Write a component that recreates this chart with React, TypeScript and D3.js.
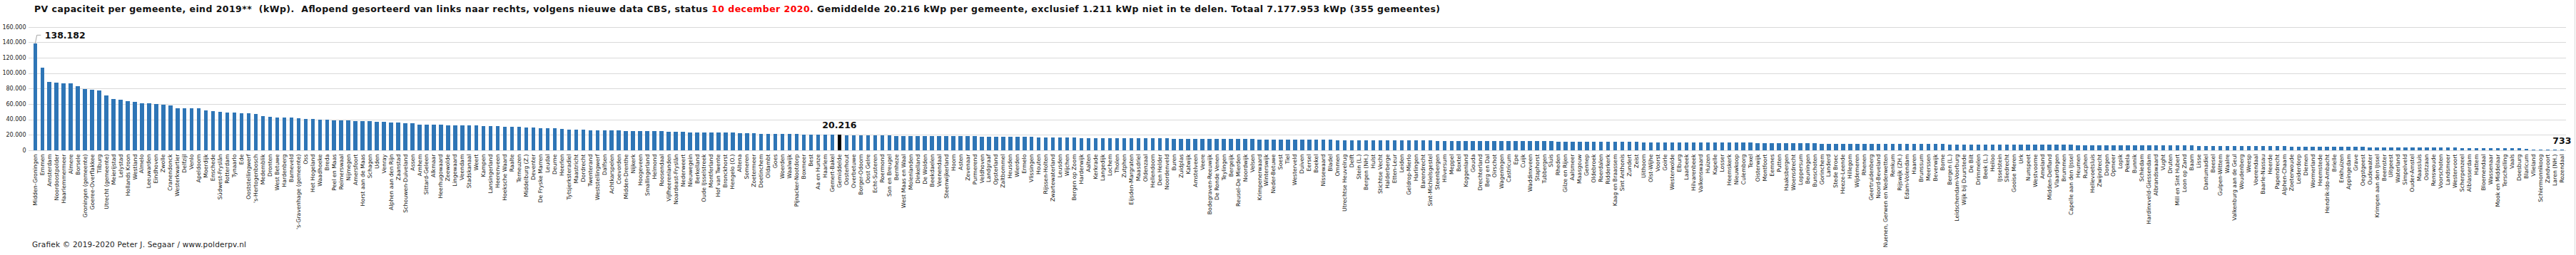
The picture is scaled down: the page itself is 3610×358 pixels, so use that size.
import React from "react";
import * as d3 from "d3";

const categories: string[] = [
  "Midden-Groningen","Emmen","Amsterdam","Noordoostpolder","Haarlemmermeer","Almere","Borsele","Groningen (gemeente)","Goeree-Overflakkee","Tilburg",
  "Utrecht (gemeente)","Meierijstad","Lelystad","Hollands Kroon","Westland","Almelo","Leeuwarden","Eindhoven","Zwolle","Cranendonck",
  "Westerkwartier","Delfzijl","Venlo","Apeldoorn","Moerdijk","Enschede","Súdwest-Fryslân","Rotterdam","Tynaarlo","Ede",
  "Ooststellingwerf","'s-Hertogenbosch","Medemblik","Dronten","West Betuwe","Hardenberg","Barneveld","'s-Gravenhage (gemeente)","Oss","Het Hogeland",
  "Waadhoeke","Breda","Peel en Maas","Reimerswaal","Nijmegen","Amersfoort","Horst aan de Maas","Schagen","Uden","Venray",
  "Alphen aan den Rijn","Zaanstad","Schouwen-Duiveland","Assen","Arnhem","Sittard-Geleen","Alkmaar","Heerhugowaard","Zeewolde","Lingewaard",
  "Veendam","Stadskanaal","Weert","Kampen","Lansingerland","Heerenveen","Hoeksche Waard","Raalte","Terneuzen","Middelburg (Z.)",
  "Deventer","De Fryske Marren","Leudal","Deurne","Heerlen","Tytsjerksteradiel","Maastricht","Dordrecht","Twenterand","Weststellingwerf",
  "Dalfsen","Achtkarspelen","Coevorden","Midden-Drenthe","Nijkerk","Hoogeveen","Smallingerland","Helmond","Roosendaal","Vijfheerenlanden",
  "Noardeast-Fryslân","Nederweert","Nieuwegein","Berkelland","Oude IJsselstreek","Montferland","Hof van Twente","Bronckhorst","Hengelo (O.)","Altena",
  "Someren","Zoetermeer","Doetinchem","Oldambt","Goes","Woerden","Waalwijk","Pijnacker-Nootdorp","Boxmeer","Best",
  "Aa en Hunze","Haarlem","Gemert-Bakel","Gemiddelde","Oosterhout","Overbetuwe","Borger-Odoorn","Oost Gelre","Echt-Susteren","Roermond",
  "Son en Breugel","Bernheze","West Maas en Waal","Molenlanden","Dinkelland","De Wolden","Beekdaelen","Veenendaal","Steenwijkerland","Hoorn",
  "Asten","Zevenaar","Purmerend","Veldhoven","Landgraaf","Opsterland","Zaltbommel","Heusden","Wierden","Ermelo",
  "Vlissingen","Houten","Rijssen-Holten","Zwartewaterland","Leusden","Wijchen","Bergen op Zoom","Harderwijk","Aalten","Kerkrade",
  "Langedijk","Lochem","Tholen","Zutphen","Eijsden-Margraten","Maasdriel","Oldenzaal","Hellendoorn","Den Helder","Noordenveld",
  "Buren","Zuidplas","Katwijk","Amstelveen","Veere","Bodegraven-Reeuwijk","De Ronde Venen","Teylingen","Bergeijk","Reusel-De Mierden",
  "Noordwijk","Velsen","Krimpenerwaard","Winterswijk","Neder-Betuwe","Soest","Tiel","Westerveld","Duiven","Eersel",
  "Boekel","Nissewaard","Bladel","Ommen","Utrechtse Heuvelrug","Delft","Stein (L.)","Bergen (NH.)","Hulst","Stichtse Vecht",
  "Halderberge","Etten-Leur","Leiden","Geldrop-Mierlo","Harlingen","Barendrecht","Sint-Michielsgestel","Steenbergen","Hilversum","Meppel",
  "Boxtel","Koggenland","Gouda","Drechterland","Berg en Dal","Oirschot","Wageningen","Castricum","Epe","Cuijk",
  "Waddinxveen","Staphorst","Tubbergen","Sluis","Rheden","Gilze en Rijen","Aalsmeer","Maasgouw","Gennep","Oldebroek",
  "Roerdalen","Ridderkerk","Kaag en Braassem","Sint Anthonis","Zundert","Zeist","Uithoorn","Olst-Wijhe","Voorst","Goirle",
  "Westerwolde","Elburg","Laarbeek","Hilvarenbeek","Valkenswaard","Huizen","Kapelle","Losser","Heemskerk","Nieuwkoop",
  "Culemborg","Texel","Oisterwijk","Montfoort","Eemnes","Putten","Haaksbergen","Woensdrecht","Loppersum","Beuningen",
  "Bunschoten","Gorinchem","Landerd","Stede Broec","Heeze-Leende","Hillegom","Wijdemeren","Rhenen","Geertruidenberg","Noord-Beveland",
  "Nuenen, Gerwen en Nederwetten","Renkum","Rijswijk (ZH.)","Edam-Volendam","Haaren","Brunssum","Meerssen","Beverwijk","Borne","Bergen (L.)",
  "Leidschendam-Voorburg","Wijk bij Duurstede","De Bilt","Drimmelen","Beek (L.)","Heiloo","IJsselstein","Sliedrecht","Gooise Meren","Urk",
  "Nunspeet","Westvoorne","Ameland","Midden-Delfland","Vlaardingen","Brummen","Capelle aan den IJssel","Heumen","Rucphen","Hellevoetsluis",
  "Zwijndrecht","Dongen","Opmeer","Lopik","Pekela","Bunnik","Schiedam","Hardinxveld-Giessendam","Albrandswaard","Vught",
  "Druten","Mill en Sint Hubert","Loon op Zand","Baarn","Lisse","Dantumadiel","Beesel","Gulpen-Wittem","Waalre","Valkenburg aan de Geul",
  "Woudenberg","Weesp","Voerendaal","Baarle-Nassau","Heerde","Papendrecht","Alphen-Chaam","Zoeterwoude","Leiderdorp","Diemen",
  "Wormerland","Heemstede","Hendrik-Ido-Ambacht","Brielle","Enkhuizen","Appingedam","Grave","Oegstgeest","Oudewater","Krimpen aan den IJssel",
  "Beemster","Uitgeest","Waterland","Simpelveld","Ouder-Amstel","Maassluis","Oostzaan","Renswoude","Voorschoten","Landsmeer",
  "Westervoort","Scherpenzeel","Alblasserdam","Hattem","Bloemendaal","Wassenaar","Mook en Middelaar","Terschelling","Vaals","Doesburg",
  "Blaricum","Vlieland","Schiermonnikoog","Zandvoort","Laren (NH.)","Rozendaal"
];

const values: number[] = [
  138182,107500,89000,88100,87200,86600,83500,79800,78900,77400,
  71500,66900,66000,64100,63200,61300,60500,60400,59500,58600,
  54900,54800,54800,54700,52100,51200,49600,49300,48500,48400,
  48300,47500,44700,43800,42900,42800,42800,41900,41000,40900,
  40100,40000,39200,39100,39100,38300,38200,38200,37300,37300,
  36400,36400,35500,35400,33600,33600,33600,33500,32700,32700,
  32600,32600,32600,31800,31700,31700,30900,30800,30800,29900,
  29900,29000,29000,28900,28100,27200,27100,27100,26300,26200,
  26200,26200,26100,25300,25300,25300,25300,25200,25200,24400,
  24400,24300,23500,23500,23400,23400,23400,23400,23300,22600,
  22500,22500,21600,21600,21600,21500,21500,21500,20700,20700,
  20700,20600,20600,20216,19800,19800,19800,19700,19700,19700,
  19700,18900,18900,18900,18900,18850,18850,18850,18800,18800,
  18800,18800,18800,17950,17950,17900,17900,17900,17900,17900,
  17850,17000,17000,17000,17000,16950,16950,16100,16100,16100,
  16100,16100,16050,16050,16050,16050,16050,16000,16000,16000,
  15200,15200,15200,15150,15150,15150,15150,15100,15100,15100,
  15100,15100,14250,14250,14250,14250,14200,14200,14200,14200,
  14200,14150,14150,13350,13350,13350,13300,13300,13300,13300,
  13300,13250,13250,13250,13250,13250,13200,12450,12450,12400,
  12400,12400,12400,12400,12400,12350,12350,12350,12350,12350,
  12300,12300,12300,12300,11500,11500,11500,11500,11450,11450,
  11450,11450,11400,11400,11400,11400,10600,10600,10600,10550,
  10550,10550,10550,10550,10500,10500,10500,10500,10500,10450,
  10450,10450,9650,9650,9650,9650,9600,9600,9600,9600,
  9550,8750,8750,8750,8750,8700,8700,8700,8700,8700,
  8700,8650,8650,8650,8650,8650,8600,8600,8600,7800,
  7800,7800,7800,7800,7750,7750,7750,7750,7750,7750,
  7700,7700,7700,7700,7700,7650,7650,6900,6900,6900,
  6900,6850,6850,6850,6850,6850,6800,6800,6800,6800,
  6800,6750,6750,6750,5950,5950,5950,5950,5900,5900,
  5900,5900,5900,5850,5850,5850,5850,5050,5050,5050,
  5000,5000,5000,5000,5000,4950,4950,4950,4100,4100,
  4100,4100,4050,4050,4050,4050,4050,4000,4000,4000,
  4000,3200,3200,3150,3150,3150,3150,3100,3100,3100,
  2200,1000,900,850,780,733
];

const yTicks: number[] = [0, 20000, 40000, 60000, 80000, 100000, 120000, 140000, 160000];
const averageLabel = "Gemiddelde";
const titleStart = "PV capaciteit per gemeente, eind 2019**  (kWp).  Aflopend gesorteerd van links naar rechts, volgens nieuwe data CBS, status ";
const titleRed = "10 december 2020";
const titleEnd = ". Gemiddelde 20.216 kWp per gemeente, exclusief 1.211 kWp niet in te delen. Totaal 7.177.953 kWp (355 gemeentes)";
const footer = "Grafiek © 2019-2020 Peter J. Segaar / www.polderpv.nl";

const BLUE = "#2E75B6";
const GRID = "#D9D9D9";
const FONT = "'DejaVu Sans', Verdana, sans-serif";

const fmt = (v: number) => d3.format(",")(v).replace(/,/g, ".");

export default function App() {
  const W = 3610, H = 358;
  const x = d3.scaleBand<string>().domain(categories).range([44.3, 3595.3]).paddingInner(0.45).paddingOuter(0.225);
  const y = d3.scaleLinear().domain([0, 160000]).range([211, 37.7]);
  const bw = x.bandwidth();

  const first = categories[0];
  const last = categories[categories.length - 1];
  const avgIdx = categories.indexOf(averageLabel);
  const cx = (c: string) => (x(c) as number) + bw / 2;

  const fx = cx(first), fy = y(values[0]);
  const ax = cx(averageLabel), ay = y(values[avgIdx]);
  const lx = cx(last), ly = y(values[values.length - 1]);

  return (
    <>
      <style>{`body{margin:0}`}</style>
      <svg width={W} height={H} style={{ display: "block", background: "#fff" }} fontFamily={FONT}>
        <rect x={0} y={0} width={W} height={H} fill="#fff" />
        <line x1={3608.5} x2={3608.5} y1={0} y2={H} stroke={GRID} strokeWidth={1} />
        {yTicks.map((t) => (
          <g key={t}>
            <line x1={40} x2={3596} y1={Math.round(y(t)) + 0.5} y2={Math.round(y(t)) + 0.5} stroke={GRID} strokeWidth={1} />
            <text x={36.5} y={y(t)} dy="0.35em" textAnchor="end" fontSize={8} fill="#222">{fmt(t)}</text>
          </g>
        ))}
        <g shapeRendering="crispEdges">
          {categories.map((c, i) => (
            <rect key={c} x={x(c)} y={y(values[i])} width={bw} height={y(0) - y(values[i])}
              fill={c === averageLabel ? "#000" : BLUE} />
          ))}
        </g>
        {categories.map((c) => (
          <text key={"l" + c} transform={`translate(${cx(c)},216.5) rotate(-90)`} dy="0.33em" textAnchor="end" fontSize={7.8} fill="#111">{c}</text>
        ))}
        <polyline points={`${fx},${fy} ${fx + 2.4},${fy - 12} ${fx + 8},${fy - 12}`} fill="none" stroke="#A6A6A6" strokeWidth={1} />
        <text x={fx + 13.5} y={fy - 7} fontSize={12.5} fontWeight="bold" fill="#111">{fmt(values[0])}</text>
        <text x={ax} y={ay - 9} textAnchor="middle" fontSize={12.5} fontWeight="bold" fill="#111">{fmt(values[avgIdx])}</text>
        <text x={lx} y={ly - 8} textAnchor="middle" fontSize={12.5} fontWeight="bold" fill="#111">{fmt(values[values.length - 1])}</text>
        <text x={48} y={17} fontSize={12.5} fontWeight="bold" fill="#111" textLength={1970} lengthAdjust="spacing" style={{ whiteSpace: "pre" }}>
          {titleStart}<tspan fill="#FF0000">{titleRed}</tspan>{titleEnd}
        </text>
        <text x={45} y={347} fontSize={10.5} fill="#222" textLength={300} lengthAdjust="spacing">{footer}</text>
      </svg>
    </>
  );
}
